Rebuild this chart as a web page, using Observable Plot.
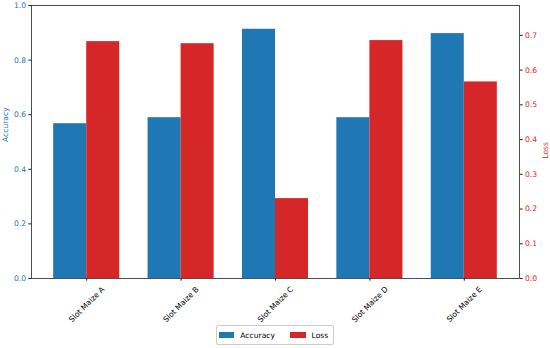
<!DOCTYPE html>
<html>
<head>
<meta charset="utf-8">
<script src="https://cdn.jsdelivr.net/npm/d3@7"></script>
<script src="https://cdn.jsdelivr.net/npm/@observablehq/plot@0.6"></script>
<style>
  html, body { margin: 0; padding: 0; background: #fff; }
  #wrap { position: relative; width: 550px; height: 348px; font-family: "DejaVu Sans", sans-serif; }
  #legend {
    position: absolute; left: 216px; top: 325px; width: 118px; height: 20px;
    box-sizing: border-box; border: 1px solid #cccccc; border-radius: 2px;
    font-size: 7.6px; color: #000; display: flex; align-items: center;
    padding-left: 2px;
  }
  #legend .sw { display: inline-block; width: 15.3px; height: 5.4px; margin-right: 6px; }
  #legend .item { display: flex; align-items: center; }
</style>
</head>
<body>
<div id="wrap">
  <div id="chart"></div>
  <div id="legend"></div>
</div>
<script>
const categories = ["Slot Maize A", "Slot Maize B", "Slot Maize C", "Slot Maize D", "Slot Maize E"];
const accuracy = [0.567, 0.589, 0.913, 0.589, 0.897];
const loss = [0.682, 0.676, 0.230, 0.685, 0.566];
const accuracyTicks = [0.0, 0.2, 0.4, 0.6, 0.8, 1.0];
const lossTicks = [0.0, 0.1, 0.2, 0.3, 0.4, 0.5, 0.6, 0.7];
const seriesNames = ["Accuracy", "Loss"];

const accuracyMax = 1.0;
const lossMax = 0.786;
const barW = 0.35;
const BLUE = "#1f77b4";
const RED = "#d62728";

const n = categories.length;
const pad = 0.05 * (n - 1 + 2 * barW);
const rows = categories.map((c, i) => ({i, category: c, accuracy: accuracy[i], loss: loss[i]}));
const indices = rows.map(d => d.i);

const chart = Plot.plot({
  width: 550,
  height: 324,
  marginLeft: 31,
  marginRight: 31,
  marginTop: 5,
  marginBottom: 46,
  style: {fontSize: "7.6px", fontFamily: "DejaVu Sans, sans-serif", background: "#fff"},
  x: {type: "linear", domain: [-barW - pad, n - 1 + barW + pad]},
  y: {domain: [0, accuracyMax]},
  marks: [
    Plot.rectY(rows, {x1: d => d.i - barW, x2: d => d.i, y1: 0, y2: "accuracy", fill: BLUE}),
    Plot.rectY(rows, {x1: d => d.i, x2: d => d.i + barW, y1: 0, y2: d => d.loss / lossMax * accuracyMax, fill: RED}),
    Plot.axisX({ticks: indices, tickFormat: () => "", tickSize: 2.7, stroke: "#222", label: null}),
    Plot.text(rows, {x: "i", text: "category", frameAnchor: "bottom", dy: 26, rotate: -45, textAnchor: "middle", lineAnchor: "middle", fill: "#000"}),
    Plot.axisY({ticks: accuracyTicks, tickFormat: d => d.toFixed(1), tickSize: 2.7, tickPadding: 2.7, stroke: "#222", fill: BLUE, label: null}),
    Plot.axisY({anchor: "right", ticks: lossTicks.map(v => v / lossMax * accuracyMax), tickFormat: v => (v * lossMax / accuracyMax).toFixed(1), tickSize: 2.7, tickPadding: 2.7, stroke: "#222", fill: RED, label: null}),
    Plot.text([seriesNames[0]], {frameAnchor: "left", dx: -26, rotate: -90, fill: BLUE}),
    Plot.text([seriesNames[1]], {frameAnchor: "right", dx: 26, rotate: -90, fill: RED}),
    Plot.frame({stroke: "#222", strokeWidth: 0.8})
  ]
});
document.getElementById("chart").appendChild(chart);

const legend = document.getElementById("legend");
const colors = [BLUE, RED];
seriesNames.forEach((name, k) => {
  const item = document.createElement("span");
  item.className = "item";
  if (k > 0) item.style.marginLeft = "15.3px";
  const sw = document.createElement("span");
  sw.className = "sw";
  sw.style.background = colors[k];
  item.appendChild(sw);
  item.appendChild(document.createTextNode(name));
  legend.appendChild(item);
});
</script>
</body>
</html>
